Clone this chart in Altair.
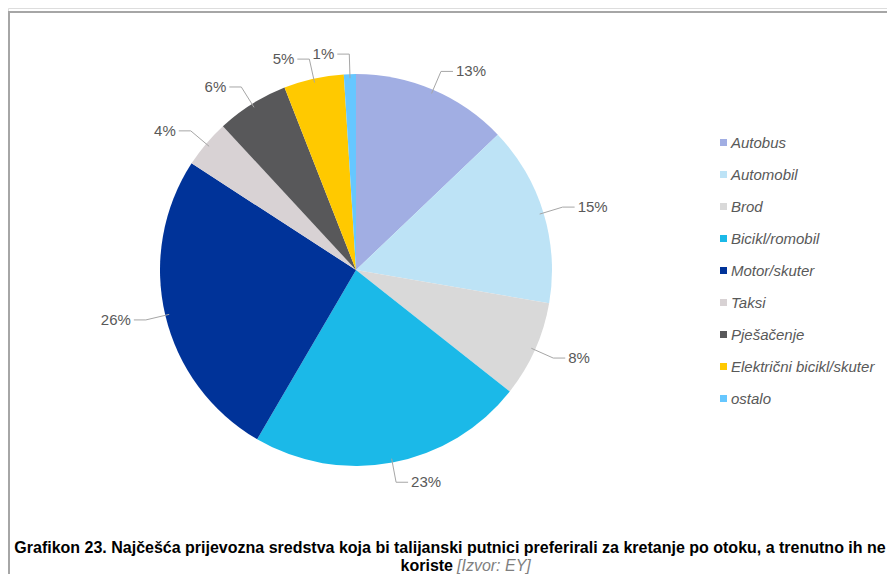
import altair as alt
import pandas as pd

categories = ["Autobus", "Automobil", "Brod", "Bicikl/romobil", "Motor/skuter",
              "Taksi", "Pješačenje", "Električni bicikl/skuter", "ostalo"]
values = [13, 15, 8, 23, 26, 4, 6, 5, 1]
colors = ["#A1AEE3", "#BDE3F6", "#D9D9D9", "#1BB9E8", "#003399",
          "#D8D2D4", "#58585A", "#FFC900", "#66C7FF"]
caption_line1 = ("Grafikon 23. Najčešća prijevozna sredstva koja bi talijanski putnici "
                 "preferirali za kretanje po otoku, a trenutno ih ne")
caption_line2_bold = "koriste"
caption_line2_italic = "[Izvor: EY]"

CX, CY, R = 348, 262, 196
W, H = 879, 566

df = pd.DataFrame({"category": categories, "value": values, "idx": list(range(len(categories)))})

pie = alt.Chart(df).mark_arc(outerRadius=R).encode(
    theta=alt.Theta("value:Q", stack=True),
    color=alt.Color("category:N", scale=alt.Scale(domain=categories, range=colors),
                    legend=alt.Legend(title=None, orient="none", legendX=708, legendY=127,
                                      symbolType="square", symbolSize=49, symbolStrokeWidth=0,
                                      labelFont="Liberation Sans", labelFontStyle="italic",
                                      labelFontSize=15, labelColor="#595959", rowPadding=16,
                                      labelOffset=0, padding=0, labelLimit=300)),
    order=alt.Order("idx:Q"),
    x=alt.value(CX), y=alt.value(CY),
)

geo = alt.Chart(df).transform_joinaggregate(
    total="sum(value)"
).transform_window(
    cum="sum(value)", sort=[alt.SortField("idx")], frame=[None, 0]
).transform_calculate(
    mid="(datum.cum - datum.value/2) / datum.total * 2 * PI",
    side="sin(datum.mid) >= 0 ? 1 : -1",
    label="datum.value + '%'",
).transform_calculate(
    sx=f"{CX} + {R - 4} * sin(datum.mid)",
    sy=f"{CY} - {R - 4} * cos(datum.mid)",
    ex=f"{CX} + {R + 20} * sin(datum.mid)",
    ey=f"{CY} - {R + 20} * cos(datum.mid)",
).transform_calculate(
    hx="datum.ex + datum.side * 12",
    tx="datum.ex + datum.side * 15",
)

radial = geo.mark_rule(color="#A6A6A6", strokeWidth=1).encode(
    x=alt.X("sx:Q", scale=None), y=alt.Y("sy:Q", scale=None),
    x2="ex:Q", y2="ey:Q",
)
horiz = geo.mark_rule(color="#A6A6A6", strokeWidth=1).encode(
    x=alt.X("ex:Q", scale=None), y=alt.Y("ey:Q", scale=None),
    x2="hx:Q", y2="ey:Q",
)
text_r = geo.transform_filter("datum.side > 0").mark_text(
    align="left", baseline="middle", font="Liberation Sans", fontSize=15, color="#595959"
).encode(x=alt.X("tx:Q", scale=None), y=alt.Y("ey:Q", scale=None), text="label:N")
text_l = geo.transform_filter("datum.side < 0").mark_text(
    align="right", baseline="middle", font="Liberation Sans", fontSize=15, color="#595959"
).encode(x=alt.X("tx:Q", scale=None), y=alt.Y("ey:Q", scale=None), text="label:N")

cap_df = pd.DataFrame({"l1": [caption_line1], "l2b": [caption_line2_bold], "l2i": [caption_line2_italic]})
cap1 = alt.Chart(cap_df).mark_text(
    align="center", baseline="middle", font="Liberation Sans", fontWeight="bold",
    fontSize=16, color="#000000"
).encode(x=alt.value(442), y=alt.value(540), text="l1:N")
cap2 = alt.Chart(cap_df).mark_text(
    align="right", baseline="middle", font="Liberation Sans", fontWeight="bold",
    fontSize=16, color="#000000"
).encode(x=alt.value(445), y=alt.value(558), text="l2b:N")
cap3 = alt.Chart(cap_df).mark_text(
    align="left", baseline="middle", font="Liberation Sans", fontStyle="italic",
    fontSize=16, color="#7F7F7F"
).encode(x=alt.value(449), y=alt.value(558), text="l2i:N")

border_top = alt.Chart(cap_df).mark_rule(color="#A6A6A6", strokeWidth=2).encode(
    x=alt.value(0), x2=alt.value(W), y=alt.value(4))
border_left = alt.Chart(cap_df).mark_rule(color="#A6A6A6", strokeWidth=2).encode(
    x=alt.value(1), y=alt.value(4), y2=alt.value(H))

chart = alt.layer(border_top, border_left, pie, radial, horiz, text_r, text_l, cap1, cap2, cap3).properties(
    width=W, height=H, padding=0, autosize=alt.AutoSizeParams(type="none"),
).configure_view(stroke=None).configure(background="white")

chart.save("out.html", embed_options={"renderer": "svg", "actions": False})
